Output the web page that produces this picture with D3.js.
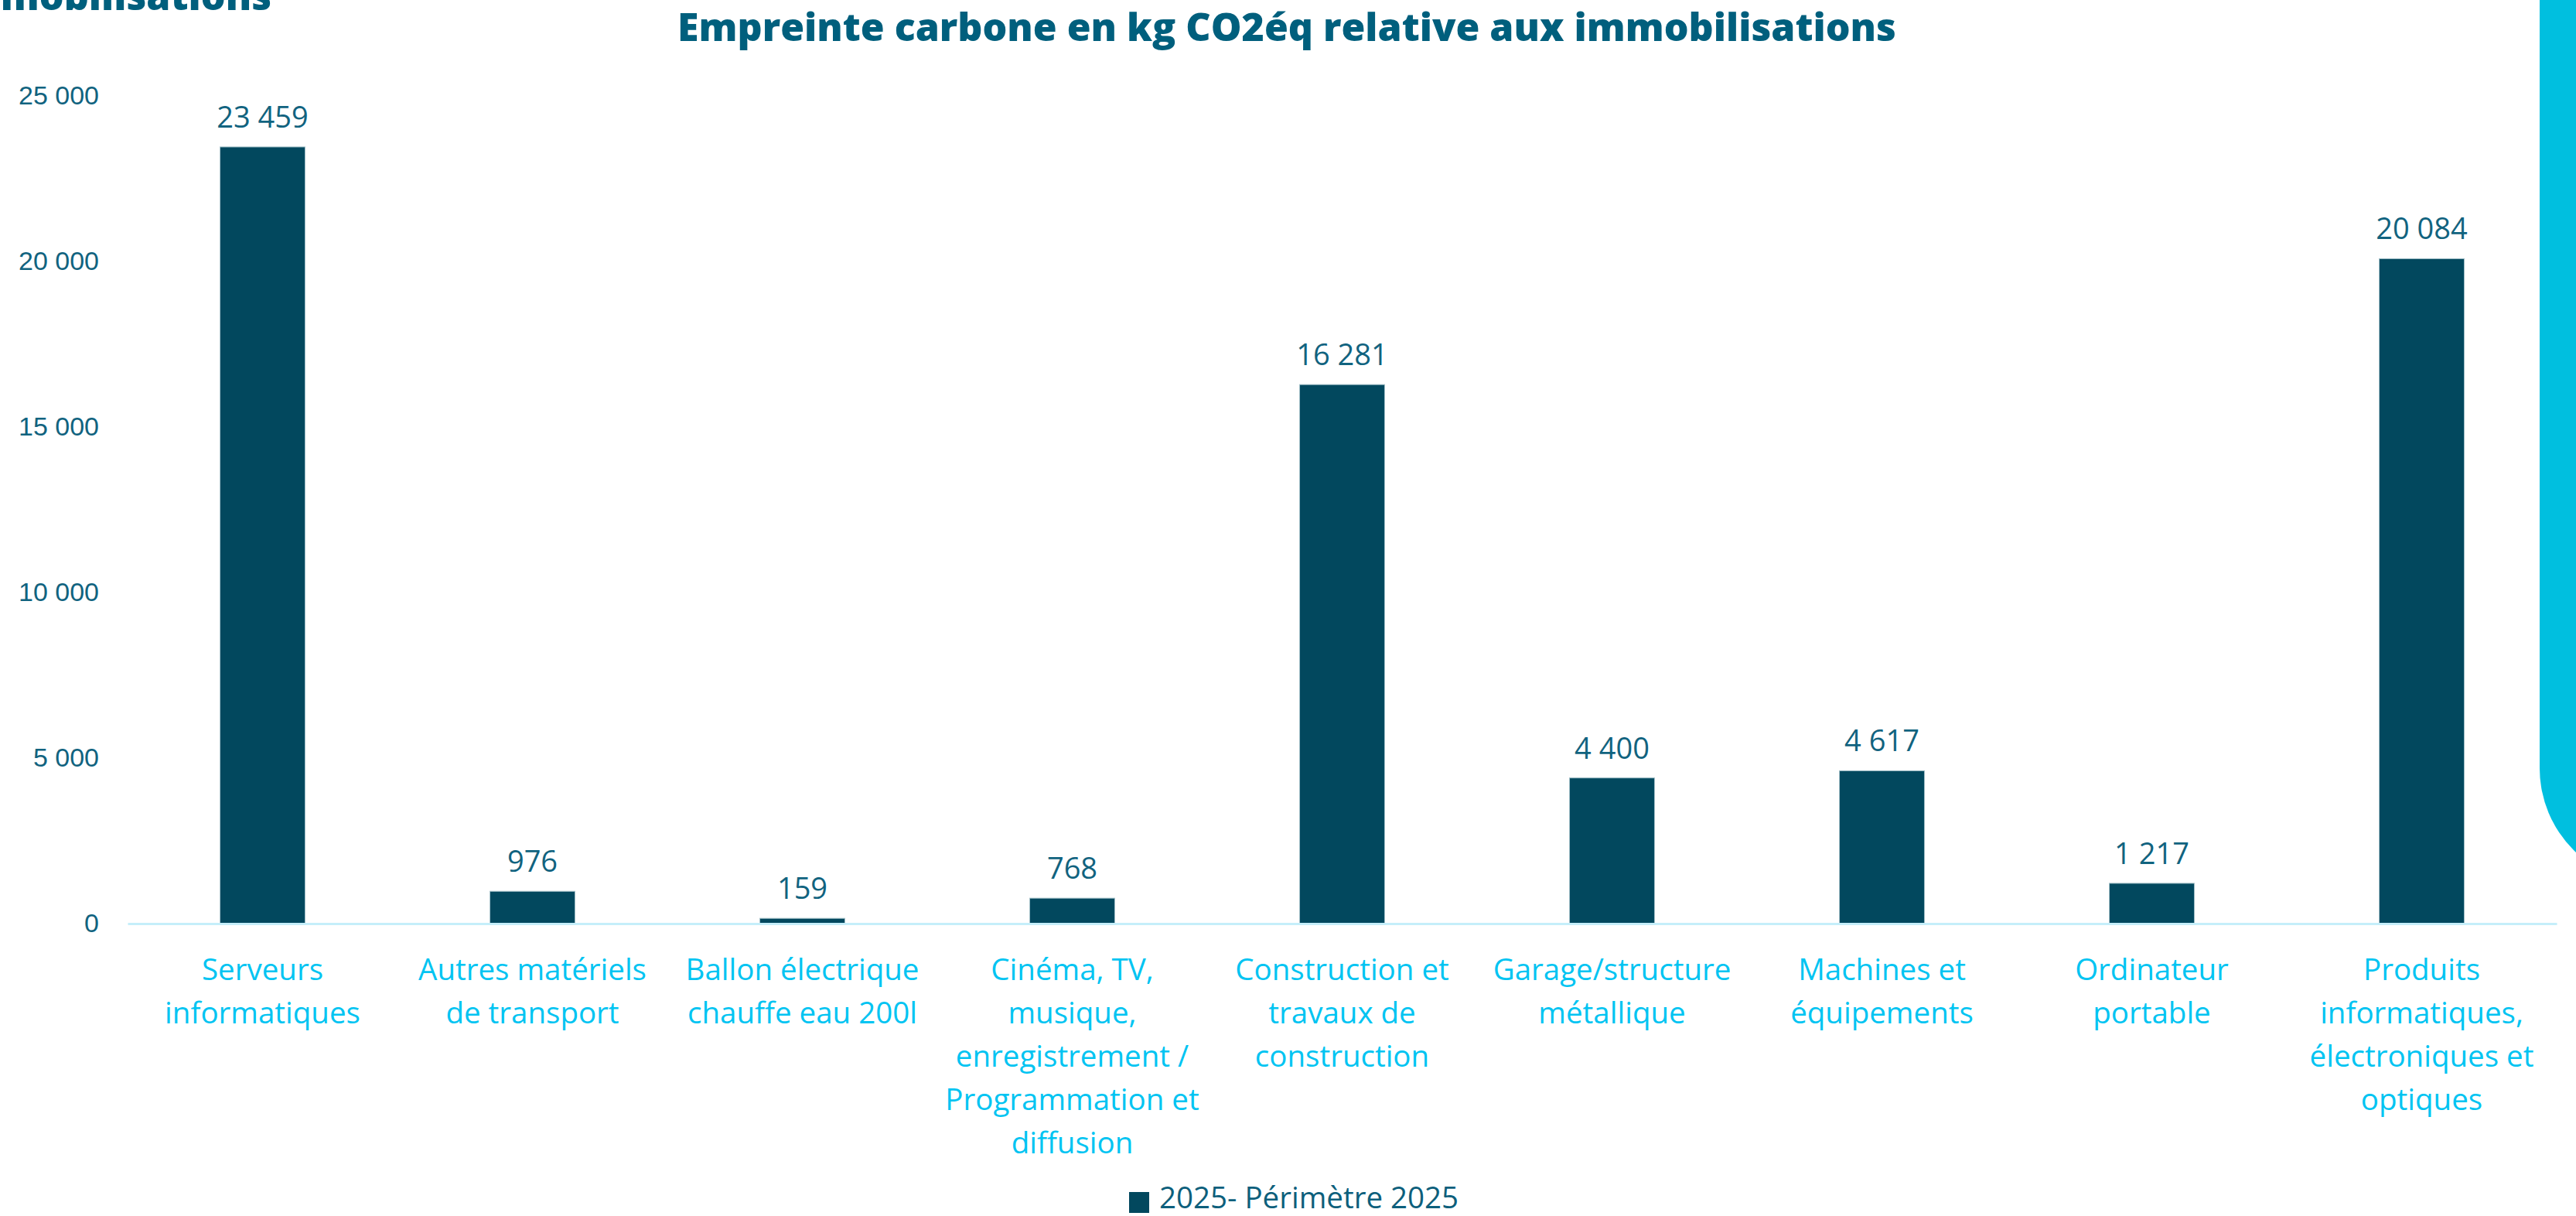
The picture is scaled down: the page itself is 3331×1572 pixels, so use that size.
<!DOCTYPE html>
<meta charset="utf-8">
<body style="margin:0;background:#fff">
<style>
  text { font-family: "Open Sans", sans-serif; }
  .title { font-weight: 800; fill: #005f7d; }
  .ytick text { font-family: "Liberation Sans", Arial, sans-serif; font-size: 34px; fill: #11637f; }
  .val { font-size: 38px; fill: #11637f; }
  .xaxis text { font-family: "Open Sans", sans-serif; font-size: 38.5px; fill: #00c4f2; }
  .legend { font-family: "Open Sans", sans-serif; font-size: 38.5px; fill: #0d5f7c; }
</style>
<script src="https://cdn.jsdelivr.net/npm/d3@7"></script>
<script>

var categories = [
  "Serveurs informatiques",
  "Autres matériels de transport",
  "Ballon électrique chauffe eau 200l",
  "Cinéma, TV, musique, enregistrement / Programmation et diffusion",
  "Construction et travaux de construction",
  "Garage/structure métallique",
  "Machines et équipements",
  "Ordinateur portable",
  "Produits informatiques, électroniques et optiques"
];
// how each category label is wrapped under the axis
var labelLines = [
  ["Serveurs", "informatiques"],
  ["Autres matériels", "de transport"],
  ["Ballon électrique", "chauffe eau 200l"],
  ["Cinéma, TV,", "musique,", "enregistrement /", "Programmation et", "diffusion"],
  ["Construction et", "travaux de", "construction"],
  ["Garage/structure", "métallique"],
  ["Machines et", "équipements"],
  ["Ordinateur", "portable"],
  ["Produits", "informatiques,", "électroniques et", "optiques"]
];
var values = [23459, 976, 159, 768, 16281, 4400, 4617, 1217, 20084];
var yTicks = [0, 5000, 10000, 15000, 20000, 25000];
var seriesName = "2025- Périmètre 2025";
var titleText = "Empreinte carbone en kg CO2éq relative aux immobilisations";
var cutTitle = "immobilisations";

var W = 3331, H = 1572;

var fr = d3.formatLocale({decimal: ",", thousands: "\u00a0", grouping: [3], currency: ["", " €"]});
var fmt = fr.format(",d");

var svg = d3.select("body").append("svg")
    .attr("width", W)
    .attr("height", H);

svg.append("rect").attr("width", W).attr("height", H).attr("fill", "#fff");

// decorative cyan band on the right
svg.append("rect")
    .attr("x", 3284).attr("y", -300)
    .attr("width", 400).attr("height", 1443)
    .attr("rx", 150)
    .attr("fill", "#00bfdf");

// leftover title cut at the top left
svg.append("text")
    .attr("class", "title")
    .attr("x", 351).attr("y", 13)
    .attr("text-anchor", "end")
    .style("font-size", "50px")
    .text(cutTitle);

svg.append("text")
    .attr("class", "title")
    .attr("x", 1664).attr("y", 53)
    .attr("text-anchor", "middle")
    .style("font-size", "50px")
    .text(titleText);

var x = d3.scaleBand()
    .domain(categories)
    .range([165, 3306])
    .paddingInner(0.685)
    .paddingOuter(0.3425);

var y = d3.scaleLinear()
    .domain([0, 25000])
    .range([1194, 124]);

// y axis (labels only)
svg.append("g")
    .attr("class", "ytick")
    .attr("transform", "translate(140,0)")
    .call(d3.axisLeft(y).tickValues(yTicks).tickSize(0).tickPadding(12).tickFormat(fmt))
    .call(function(g) { g.select(".domain").remove(); });

svg.selectAll(".bar")
    .data(values)
  .enter().append("rect")
    .attr("class", "bar")
    .attr("x", function(d, i) { return x(categories[i]); })
    .attr("y", function(d) { return y(d); })
    .attr("width", x.bandwidth())
    .attr("height", function(d) { return y(0) - y(d); })
    .attr("fill", "#02485e")
    .attr("stroke", "#a3c0c8")
    .attr("stroke-width", 1);

svg.selectAll(".val")
    .data(values)
  .enter().append("text")
    .attr("class", "val")
    .attr("x", function(d, i) { return x(categories[i]) + x.bandwidth() / 2; })
    .attr("y", function(d) { return y(d) - 25; })
    .attr("text-anchor", "middle")
    .text(function(d) { return fmt(d); });

// x axis
var xg = svg.append("g")
    .attr("class", "xaxis")
    .attr("transform", "translate(0," + y(0) + ")")
    .call(d3.axisBottom(x).tickSize(0).tickSizeOuter(0));

xg.select(".domain")
    .attr("stroke", "#c5eefa")
    .attr("stroke-width", 3);

xg.selectAll(".tick text")
    .each(function(d, i) {
      var t = d3.select(this).text(null).attr("y", 0).attr("dy", null);
      labelLines[i].forEach(function(line, j) {
        t.append("tspan").attr("x", 0).attr("y", 73 + j * 56).text(line);
      });
    });

// legend
var lg = svg.append("g");
lg.append("rect")
    .attr("x", 1460).attr("y", 1541)
    .attr("width", 26).attr("height", 27)
    .attr("fill", "#02485e");
lg.append("text")
    .attr("class", "legend")
    .attr("x", 1499).attr("y", 1562)
    .text(seriesName);

</script>
